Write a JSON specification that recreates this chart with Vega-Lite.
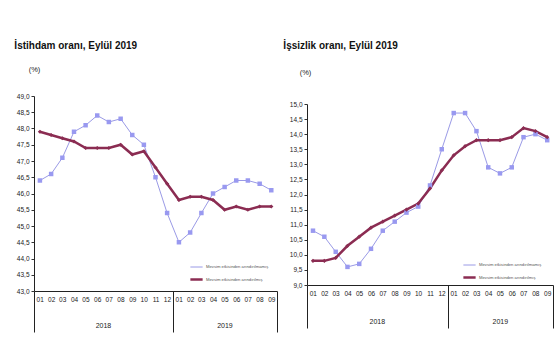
{
 "$schema": "https://vega.github.io/schema/vega-lite/v6.json",
 "background": "white",
 "padding": {"left": 14, "top": 34, "right": 2, "bottom": 5},
 "spacing": 5,
 "config": {"view": {"stroke": null}, "font": "Liberation Sans", "axis": {"labelColor": "#222", "domainColor": "#333", "tickColor": "#333", "grid": false}},
 "resolve": {"scale": {"x": "independent", "y": "independent", "color": "independent", "strokeWidth": "independent"}, "legend": {"color": "independent"}},
 "hconcat": [
  {"spacing": 0, "vconcat": [
  {"data": {"values": [{"a": 1}]}, "width": 1, "height": 1, "mark": {"type": "point", "opacity": 0}, "encoding": {}},
  {
   "width": 243, "height": 195,
   "title": {"text": "İstihdam oranı, Eylül 2019", "anchor": "start", "frame": "bounds", "fontSize": 10, "fontWeight": "bold", "font": "Liberation Sans Narrow, Liberation Sans", "offset": 14, "dx": -2, "color": "#111"},
   "data": {"values": [
    {"month": "2018-01", "series": "Mevsim etkisinden arındırılmamış", "value": 46.4},
    {"month": "2018-02", "series": "Mevsim etkisinden arındırılmamış", "value": 46.6},
    {"month": "2018-03", "series": "Mevsim etkisinden arındırılmamış", "value": 47.1},
    {"month": "2018-04", "series": "Mevsim etkisinden arındırılmamış", "value": 47.9},
    {"month": "2018-05", "series": "Mevsim etkisinden arındırılmamış", "value": 48.1},
    {"month": "2018-06", "series": "Mevsim etkisinden arındırılmamış", "value": 48.4},
    {"month": "2018-07", "series": "Mevsim etkisinden arındırılmamış", "value": 48.2},
    {"month": "2018-08", "series": "Mevsim etkisinden arındırılmamış", "value": 48.3},
    {"month": "2018-09", "series": "Mevsim etkisinden arındırılmamış", "value": 47.8},
    {"month": "2018-10", "series": "Mevsim etkisinden arındırılmamış", "value": 47.5},
    {"month": "2018-11", "series": "Mevsim etkisinden arındırılmamış", "value": 46.5},
    {"month": "2018-12", "series": "Mevsim etkisinden arındırılmamış", "value": 45.4},
    {"month": "2019-01", "series": "Mevsim etkisinden arındırılmamış", "value": 44.5},
    {"month": "2019-02", "series": "Mevsim etkisinden arındırılmamış", "value": 44.8},
    {"month": "2019-03", "series": "Mevsim etkisinden arındırılmamış", "value": 45.4},
    {"month": "2019-04", "series": "Mevsim etkisinden arındırılmamış", "value": 46.0},
    {"month": "2019-05", "series": "Mevsim etkisinden arındırılmamış", "value": 46.2},
    {"month": "2019-06", "series": "Mevsim etkisinden arındırılmamış", "value": 46.4},
    {"month": "2019-07", "series": "Mevsim etkisinden arındırılmamış", "value": 46.4},
    {"month": "2019-08", "series": "Mevsim etkisinden arındırılmamış", "value": 46.3},
    {"month": "2019-09", "series": "Mevsim etkisinden arındırılmamış", "value": 46.1},
    {"month": "2018-01", "series": "Mevsim etkisinden arındırılmış", "value": 47.9},
    {"month": "2018-02", "series": "Mevsim etkisinden arındırılmış", "value": 47.8},
    {"month": "2018-03", "series": "Mevsim etkisinden arındırılmış", "value": 47.7},
    {"month": "2018-04", "series": "Mevsim etkisinden arındırılmış", "value": 47.6},
    {"month": "2018-05", "series": "Mevsim etkisinden arındırılmış", "value": 47.4},
    {"month": "2018-06", "series": "Mevsim etkisinden arındırılmış", "value": 47.4},
    {"month": "2018-07", "series": "Mevsim etkisinden arındırılmış", "value": 47.4},
    {"month": "2018-08", "series": "Mevsim etkisinden arındırılmış", "value": 47.5},
    {"month": "2018-09", "series": "Mevsim etkisinden arındırılmış", "value": 47.2},
    {"month": "2018-10", "series": "Mevsim etkisinden arındırılmış", "value": 47.3},
    {"month": "2018-11", "series": "Mevsim etkisinden arındırılmış", "value": 46.8},
    {"month": "2018-12", "series": "Mevsim etkisinden arındırılmış", "value": 46.3},
    {"month": "2019-01", "series": "Mevsim etkisinden arındırılmış", "value": 45.8},
    {"month": "2019-02", "series": "Mevsim etkisinden arındırılmış", "value": 45.9},
    {"month": "2019-03", "series": "Mevsim etkisinden arındırılmış", "value": 45.9},
    {"month": "2019-04", "series": "Mevsim etkisinden arındırılmış", "value": 45.8},
    {"month": "2019-05", "series": "Mevsim etkisinden arındırılmış", "value": 45.5},
    {"month": "2019-06", "series": "Mevsim etkisinden arındırılmış", "value": 45.6},
    {"month": "2019-07", "series": "Mevsim etkisinden arındırılmış", "value": 45.5},
    {"month": "2019-08", "series": "Mevsim etkisinden arındırılmış", "value": 45.6},
    {"month": "2019-09", "series": "Mevsim etkisinden arındırılmış", "value": 45.6}
   ]},
   "resolve": {"scale": {"x": "independent"}, "axis": {"x": "independent"}},
   "encoding": {
    "y": {"field": "value", "type": "quantitative", "scale": {"domain": [43, 49], "nice": false, "zero": false},
      "axis": {"values": [43, 43.5, 44, 44.5, 45, 45.5, 46, 46.5, 47, 47.5, 48, 48.5, 49], "labelExpr": "replace(format(datum.value, '.1f'), '.', ',')", "tickSize": 3, "labelFontSize": 6.5, "labelPadding": 2, "domainColor": "#222",
        "title": "(%)", "titleAngle": 0, "titleX": 0, "titleY": -27, "titleAlign": "center", "titleBaseline": "middle", "titleFontWeight": "normal", "titleFontSize": 7.5, "titleColor": "#222"}}
   },
   "layer": [
    {
     "mark": {"type": "line"},
     "encoding": {
      "x": {"field": "month", "timeUnit": "utcyearmonth", "type": "temporal", "bandPosition": 0.5,
        "scale": {"domain": [{"year": 2018, "month": 1, "date": 1, "utc": true}, {"year": 2019, "month": 10, "date": 1, "utc": true}], "nice": false},
        "axis": {"orient": "bottom", "title": null, "ticks": false, "domain": true, "domainColor": "#222", "labelFontSize": 6.5, "labelPadding": 5, "labelFlush": false, "labelOverlap": false,
          "labelExpr": "utcFormat(datum.value, '%m')",
          "values": [
           {"year": 2018, "month": 1, "date": 16, "utc": true}, {"year": 2018, "month": 2, "date": 15, "utc": true}, {"year": 2018, "month": 3, "date": 16, "utc": true},
           {"year": 2018, "month": 4, "date": 16, "utc": true}, {"year": 2018, "month": 5, "date": 16, "utc": true}, {"year": 2018, "month": 6, "date": 16, "utc": true},
           {"year": 2018, "month": 7, "date": 16, "utc": true}, {"year": 2018, "month": 8, "date": 16, "utc": true}, {"year": 2018, "month": 9, "date": 16, "utc": true},
           {"year": 2018, "month": 10, "date": 16, "utc": true}, {"year": 2018, "month": 11, "date": 16, "utc": true}, {"year": 2018, "month": 12, "date": 16, "utc": true},
           {"year": 2019, "month": 1, "date": 16, "utc": true}, {"year": 2019, "month": 2, "date": 15, "utc": true}, {"year": 2019, "month": 3, "date": 16, "utc": true},
           {"year": 2019, "month": 4, "date": 16, "utc": true}, {"year": 2019, "month": 5, "date": 16, "utc": true}, {"year": 2019, "month": 6, "date": 16, "utc": true},
           {"year": 2019, "month": 7, "date": 16, "utc": true}, {"year": 2019, "month": 8, "date": 16, "utc": true}, {"year": 2019, "month": 9, "date": 16, "utc": true}
          ]}},
      "color": {"field": "series", "type": "nominal", "scale": {"domain": ["Mevsim etkisinden arındırılmamış", "Mevsim etkisinden arındırılmış"], "range": ["#9a9ae6", "#8b2c52"]},
        "legend": {"title": null, "orient": "none", "legendX": 155, "legendY": 164, "symbolType": "stroke", "symbolSize": 150, "symbolStrokeWidth": 1.5, "labelFontSize": 4.2, "labelOffset": 2, "labelColor": "#555", "rowPadding": 2}},
      "strokeWidth": {"field": "series", "type": "nominal", "scale": {"domain": ["Mevsim etkisinden arındırılmamış", "Mevsim etkisinden arındırılmış"], "range": [1, 2.5]}, "legend": null}
     }
    },
    {
     "transform": [{"filter": "datum.series === 'Mevsim etkisinden arındırılmamış'"}],
     "mark": {"type": "point", "filled": true, "opacity": 1, "size": 20, "shape": "square", "color": "#9999f0"},
     "encoding": {
      "x": {"field": "month", "timeUnit": "utcyearmonth", "type": "temporal", "bandPosition": 0.5,
        "scale": {"domain": [{"year": 2018, "month": 1, "date": 1, "utc": true}, {"year": 2019, "month": 10, "date": 1, "utc": true}], "nice": false}, "axis": null}
     }
    },
    {
     "transform": [{"filter": "datum.series === 'Mevsim etkisinden arındırılmış'"}],
     "mark": {"type": "point", "filled": true, "opacity": 1, "size": 18, "shape": "diamond", "color": "#8b2c52"},
     "encoding": {
      "x": {"field": "month", "timeUnit": "utcyearmonth", "type": "temporal", "bandPosition": 0.5,
        "scale": {"domain": [{"year": 2018, "month": 1, "date": 1, "utc": true}, {"year": 2019, "month": 10, "date": 1, "utc": true}], "nice": false}, "axis": null}
     }
    },
    {
     "mark": {"type": "point", "opacity": 0},
     "encoding": {"x": {"field": "month", "timeUnit": "utcyearmonth", "type": "temporal",
       "scale": {"domain": [{"year": 2018, "month": 1, "date": 1, "utc": true}, {"year": 2019, "month": 10, "date": 1, "utc": true}], "nice": false},
       "axis": {"orient": "bottom", "title": null, "labels": false, "domain": false, "ticks": true, "tickSize": 41, "tickColor": "#222",
         "values": [{"year": 2018, "month": 1, "date": 1, "utc": true}, {"year": 2019, "month": 1, "date": 1, "utc": true}, {"year": 2019, "month": 10, "date": 1, "utc": true}]}}}
    },
    {
     "mark": {"type": "point", "opacity": 0},
     "encoding": {"x": {"field": "month", "timeUnit": "utcyearmonth", "type": "temporal",
       "scale": {"domain": [{"year": 2018, "month": 1, "date": 1, "utc": true}, {"year": 2019, "month": 10, "date": 1, "utc": true}], "nice": false},
       "axis": {"orient": "bottom", "title": null, "labels": true, "domain": false, "ticks": false, "labelPadding": 30, "labelFontSize": 7, "labelFlush": false, "labelOverlap": false,
         "labelExpr": "utcFormat(datum.value, '%Y')",
         "values": [{"year": 2018, "month": 7, "date": 1, "utc": true}, {"year": 2019, "month": 5, "date": 16, "utc": true}]}}}
    }
   ]
  }
  ], "resolve": {"scale": {"x": "independent", "y": "independent", "color": "independent", "strokeWidth": "independent"}, "legend": {"color": "independent"}}},
  {"spacing": 0, "vconcat": [
  {"data": {"values": [{"a": 1}]}, "width": 1, "height": 1, "mark": {"type": "point", "opacity": 0}, "encoding": {}},
  {
   "width": 246, "height": 181,
   "title": {"text": "İşsizlik oranı, Eylül 2019", "anchor": "start", "frame": "bounds", "fontSize": 10, "fontWeight": "bold", "font": "Liberation Sans Narrow, Liberation Sans", "offset": 17, "dx": -6, "color": "#111"},
   "data": {"values": [
    {"month": "2018-01", "series": "Mevsim etkisinden arındırılmamış", "value": 10.8},
    {"month": "2018-02", "series": "Mevsim etkisinden arındırılmamış", "value": 10.6},
    {"month": "2018-03", "series": "Mevsim etkisinden arındırılmamış", "value": 10.1},
    {"month": "2018-04", "series": "Mevsim etkisinden arındırılmamış", "value": 9.6},
    {"month": "2018-05", "series": "Mevsim etkisinden arındırılmamış", "value": 9.7},
    {"month": "2018-06", "series": "Mevsim etkisinden arındırılmamış", "value": 10.2},
    {"month": "2018-07", "series": "Mevsim etkisinden arındırılmamış", "value": 10.8},
    {"month": "2018-08", "series": "Mevsim etkisinden arındırılmamış", "value": 11.1},
    {"month": "2018-09", "series": "Mevsim etkisinden arındırılmamış", "value": 11.4},
    {"month": "2018-10", "series": "Mevsim etkisinden arındırılmamış", "value": 11.6},
    {"month": "2018-11", "series": "Mevsim etkisinden arındırılmamış", "value": 12.3},
    {"month": "2018-12", "series": "Mevsim etkisinden arındırılmamış", "value": 13.5},
    {"month": "2019-01", "series": "Mevsim etkisinden arındırılmamış", "value": 14.7},
    {"month": "2019-02", "series": "Mevsim etkisinden arındırılmamış", "value": 14.7},
    {"month": "2019-03", "series": "Mevsim etkisinden arındırılmamış", "value": 14.1},
    {"month": "2019-04", "series": "Mevsim etkisinden arındırılmamış", "value": 12.9},
    {"month": "2019-05", "series": "Mevsim etkisinden arındırılmamış", "value": 12.7},
    {"month": "2019-06", "series": "Mevsim etkisinden arındırılmamış", "value": 12.9},
    {"month": "2019-07", "series": "Mevsim etkisinden arındırılmamış", "value": 13.9},
    {"month": "2019-08", "series": "Mevsim etkisinden arındırılmamış", "value": 14.0},
    {"month": "2019-09", "series": "Mevsim etkisinden arındırılmamış", "value": 13.8},
    {"month": "2018-01", "series": "Mevsim etkisinden arındırılmış", "value": 9.8},
    {"month": "2018-02", "series": "Mevsim etkisinden arındırılmış", "value": 9.8},
    {"month": "2018-03", "series": "Mevsim etkisinden arındırılmış", "value": 9.9},
    {"month": "2018-04", "series": "Mevsim etkisinden arındırılmış", "value": 10.3},
    {"month": "2018-05", "series": "Mevsim etkisinden arındırılmış", "value": 10.6},
    {"month": "2018-06", "series": "Mevsim etkisinden arındırılmış", "value": 10.9},
    {"month": "2018-07", "series": "Mevsim etkisinden arındırılmış", "value": 11.1},
    {"month": "2018-08", "series": "Mevsim etkisinden arındırılmış", "value": 11.3},
    {"month": "2018-09", "series": "Mevsim etkisinden arındırılmış", "value": 11.5},
    {"month": "2018-10", "series": "Mevsim etkisinden arındırılmış", "value": 11.7},
    {"month": "2018-11", "series": "Mevsim etkisinden arındırılmış", "value": 12.2},
    {"month": "2018-12", "series": "Mevsim etkisinden arındırılmış", "value": 12.8},
    {"month": "2019-01", "series": "Mevsim etkisinden arındırılmış", "value": 13.3},
    {"month": "2019-02", "series": "Mevsim etkisinden arındırılmış", "value": 13.6},
    {"month": "2019-03", "series": "Mevsim etkisinden arındırılmış", "value": 13.8},
    {"month": "2019-04", "series": "Mevsim etkisinden arındırılmış", "value": 13.8},
    {"month": "2019-05", "series": "Mevsim etkisinden arındırılmış", "value": 13.8},
    {"month": "2019-06", "series": "Mevsim etkisinden arındırılmış", "value": 13.9},
    {"month": "2019-07", "series": "Mevsim etkisinden arındırılmış", "value": 14.2},
    {"month": "2019-08", "series": "Mevsim etkisinden arındırılmış", "value": 14.1},
    {"month": "2019-09", "series": "Mevsim etkisinden arındırılmış", "value": 13.9}
   ]},
   "resolve": {"scale": {"x": "independent"}, "axis": {"x": "independent"}},
   "encoding": {
    "y": {"field": "value", "type": "quantitative", "scale": {"domain": [9, 15], "nice": false, "zero": false},
      "axis": {"values": [9, 9.5, 10, 10.5, 11, 11.5, 12, 12.5, 13, 13.5, 14, 14.5, 15], "labelExpr": "replace(format(datum.value, '.1f'), '.', ',')", "tickSize": 3, "labelFontSize": 6.5, "labelPadding": 2, "domainColor": "#222",
        "title": "(%)", "titleAngle": 0, "titleX": -2, "titleY": -32, "titleAlign": "center", "titleBaseline": "middle", "titleFontWeight": "normal", "titleFontSize": 7.5, "titleColor": "#222"}}
   },
   "layer": [
    {
     "mark": {"type": "line"},
     "encoding": {
      "x": {"field": "month", "timeUnit": "utcyearmonth", "type": "temporal", "bandPosition": 0.5,
        "scale": {"domain": [{"year": 2018, "month": 1, "date": 1, "utc": true}, {"year": 2019, "month": 10, "date": 1, "utc": true}], "nice": false},
        "axis": {"orient": "bottom", "title": null, "ticks": false, "domain": true, "domainColor": "#222", "labelFontSize": 6.5, "labelPadding": 5, "labelFlush": false, "labelOverlap": false,
          "labelExpr": "utcFormat(datum.value, '%m')",
          "values": [
           {"year": 2018, "month": 1, "date": 16, "utc": true}, {"year": 2018, "month": 2, "date": 15, "utc": true}, {"year": 2018, "month": 3, "date": 16, "utc": true},
           {"year": 2018, "month": 4, "date": 16, "utc": true}, {"year": 2018, "month": 5, "date": 16, "utc": true}, {"year": 2018, "month": 6, "date": 16, "utc": true},
           {"year": 2018, "month": 7, "date": 16, "utc": true}, {"year": 2018, "month": 8, "date": 16, "utc": true}, {"year": 2018, "month": 9, "date": 16, "utc": true},
           {"year": 2018, "month": 10, "date": 16, "utc": true}, {"year": 2018, "month": 11, "date": 16, "utc": true}, {"year": 2018, "month": 12, "date": 16, "utc": true},
           {"year": 2019, "month": 1, "date": 16, "utc": true}, {"year": 2019, "month": 2, "date": 15, "utc": true}, {"year": 2019, "month": 3, "date": 16, "utc": true},
           {"year": 2019, "month": 4, "date": 16, "utc": true}, {"year": 2019, "month": 5, "date": 16, "utc": true}, {"year": 2019, "month": 6, "date": 16, "utc": true},
           {"year": 2019, "month": 7, "date": 16, "utc": true}, {"year": 2019, "month": 8, "date": 16, "utc": true}, {"year": 2019, "month": 9, "date": 16, "utc": true}
          ]}},
      "color": {"field": "series", "type": "nominal", "scale": {"domain": ["Mevsim etkisinden arındırılmamış", "Mevsim etkisinden arındırılmış"], "range": ["#9a9ae6", "#8b2c52"]},
        "legend": {"title": null, "orient": "none", "legendX": 155, "legendY": 154, "symbolType": "stroke", "symbolSize": 150, "symbolStrokeWidth": 1.5, "labelFontSize": 4.2, "labelOffset": 2, "labelColor": "#555", "rowPadding": 2}},
      "strokeWidth": {"field": "series", "type": "nominal", "scale": {"domain": ["Mevsim etkisinden arındırılmamış", "Mevsim etkisinden arındırılmış"], "range": [1, 2.5]}, "legend": null}
     }
    },
    {
     "transform": [{"filter": "datum.series === 'Mevsim etkisinden arındırılmamış'"}],
     "mark": {"type": "point", "filled": true, "opacity": 1, "size": 20, "shape": "square", "color": "#9999f0"},
     "encoding": {
      "x": {"field": "month", "timeUnit": "utcyearmonth", "type": "temporal", "bandPosition": 0.5,
        "scale": {"domain": [{"year": 2018, "month": 1, "date": 1, "utc": true}, {"year": 2019, "month": 10, "date": 1, "utc": true}], "nice": false}, "axis": null}
     }
    },
    {
     "transform": [{"filter": "datum.series === 'Mevsim etkisinden arındırılmış'"}],
     "mark": {"type": "point", "filled": true, "opacity": 1, "size": 18, "shape": "diamond", "color": "#8b2c52"},
     "encoding": {
      "x": {"field": "month", "timeUnit": "utcyearmonth", "type": "temporal", "bandPosition": 0.5,
        "scale": {"domain": [{"year": 2018, "month": 1, "date": 1, "utc": true}, {"year": 2019, "month": 10, "date": 1, "utc": true}], "nice": false}, "axis": null}
     }
    },
    {
     "mark": {"type": "point", "opacity": 0},
     "encoding": {"x": {"field": "month", "timeUnit": "utcyearmonth", "type": "temporal",
       "scale": {"domain": [{"year": 2018, "month": 1, "date": 1, "utc": true}, {"year": 2019, "month": 10, "date": 1, "utc": true}], "nice": false},
       "axis": {"orient": "bottom", "title": null, "labels": false, "domain": false, "ticks": true, "tickSize": 43, "tickColor": "#222",
         "values": [{"year": 2018, "month": 1, "date": 1, "utc": true}, {"year": 2019, "month": 1, "date": 1, "utc": true}, {"year": 2019, "month": 10, "date": 1, "utc": true}]}}}
    },
    {
     "mark": {"type": "point", "opacity": 0},
     "encoding": {"x": {"field": "month", "timeUnit": "utcyearmonth", "type": "temporal",
       "scale": {"domain": [{"year": 2018, "month": 1, "date": 1, "utc": true}, {"year": 2019, "month": 10, "date": 1, "utc": true}], "nice": false},
       "axis": {"orient": "bottom", "title": null, "labels": true, "domain": false, "ticks": false, "labelPadding": 32, "labelFontSize": 7, "labelFlush": false, "labelOverlap": false,
         "labelExpr": "utcFormat(datum.value, '%Y')",
         "values": [{"year": 2018, "month": 7, "date": 1, "utc": true}, {"year": 2019, "month": 5, "date": 16, "utc": true}]}}}
    }
   ]
  }
  ], "resolve": {"scale": {"x": "independent", "y": "independent", "color": "independent", "strokeWidth": "independent"}, "legend": {"color": "independent"}}}
 ]
}
